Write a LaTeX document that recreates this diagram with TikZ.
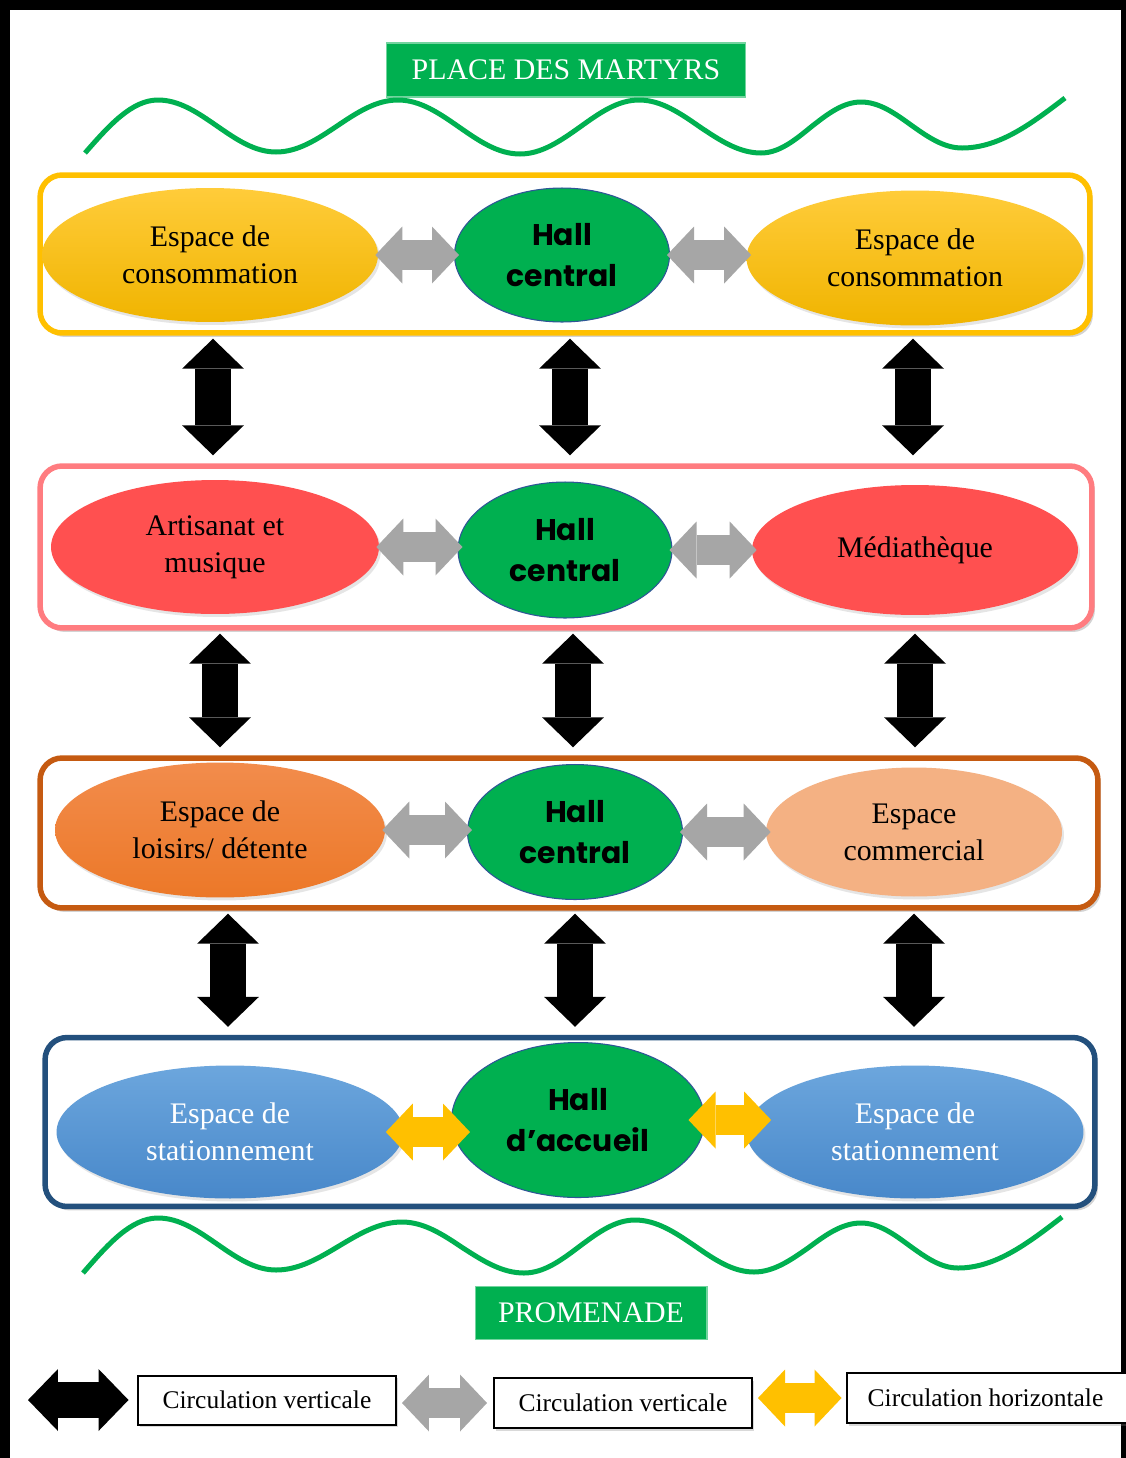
\documentclass[tikz,border=0pt]{standalone}
\usepackage{fontspec}
\setmainfont{Liberation Serif}
\newfontfamily\hallfont{Poppins}
\definecolor{vert}{RGB}{0,176,80}
\definecolor{jaune}{RGB}{255,192,0}
\definecolor{jauneclair}{RGB}{255,204,58}
\definecolor{jaunefonce}{RGB}{240,180,0}
\definecolor{rose}{RGB}{255,124,128}
\definecolor{rouge}{RGB}{255,80,80}
\definecolor{brique}{RGB}{197,90,17}
\definecolor{orangeclair}{RGB}{242,140,76}
\definecolor{orangevif}{RGB}{236,120,40}
\definecolor{peche}{RGB}{244,177,131}
\definecolor{marine}{RGB}{35,80,125}
\definecolor{bleuclair}{RGB}{108,166,221}
\definecolor{bleufonce}{RGB}{72,136,202}
\definecolor{contour}{RGB}{47,85,151}
\definecolor{gris}{RGB}{166,166,166}
\usetikzlibrary{arrows.meta, shapes.geometric, shadows, calc}

\begin{document}
\begin{tikzpicture}[x=0.02cm, y=-0.02cm,
        zone/.style={draw, rounded corners=0.44cm, line width=0.11cm, fill=white, inner sep=0pt,
            drop shadow={opacity=0.35, shadow xshift=0.06cm, shadow yshift=-0.08cm}},
        room/.style={ellipse, inner sep=0pt, align=center, font=\fontsize{17}{21}\selectfont,
            drop shadow={opacity=0.2, shadow xshift=0.04cm, shadow yshift=-0.06cm}},
        hall/.style={ellipse, fill=vert, draw=contour, line width=0.6pt, inner sep=0pt, align=center,
            font=\hallfont\bfseries\fontsize{17}{23}\selectfont},
        tag/.style={fill=vert, draw=vert!55!white, line width=0.6pt, text=white, inner sep=0pt,
            font=\fontsize{17}{20}\selectfont},
        legbox/.style={draw=black, line width=0.04cm, fill=white, inner sep=0pt,
            font=\fontsize{14.5}{17}\selectfont,
            drop shadow={opacity=0.3, shadow xshift=0.04cm, shadow yshift=-0.05cm}},
        varr/.style={draw=black, line width=0.72cm,
            {Triangle[length=0.6cm, width=1.24cm, line width=0pt]}-{Triangle[length=0.6cm, width=1.24cm, line width=0pt]},
            shorten <=0.06cm, shorten >=0.16cm},
        garr/.style={draw=gris, line width=0.6cm,
            {Triangle[length=0.54cm, width=1.14cm, line width=0pt]}-{Triangle[length=0.54cm, width=1.14cm, line width=0pt]},
            shorten <=-0.06cm, shorten >=-0.1cm},
        yarr/.style={garr, draw=jaune},
        wave/.style={draw=vert, line width=0.1cm}
    ]
    \useasboundingbox (0,0) rectangle (1126,1458);
    % cadre
    \draw[line width=0.2cm] (5,1470) -- (5,5) -- (1126,5) -- (1126,1470);

    % Place des Martyrs
    \node[tag, minimum width=7.18cm, minimum height=1.08cm] (place) at (566,70) {PLACE DES MARTYRS};
    \draw[wave] (85,153) sin (158,100) cos (217,126) sin (276,152) cos (337,126) sin (398,100)
        cos (459,127) sin (520,154) cos (580,127) sin (639,100) cos (700,127) sin (761,153)
        cos (811,127) sin (861,102) cos (911,125) sin (962,148) cos (1065,98);

    % Rangée 1 : consommation
    \node[zone, draw=jaune, minimum width=21cm, minimum height=3.16cm] (r1) at (565,254) {};
    \node[room, top color=jauneclair, bottom color=jaunefonce, minimum width=6.72cm, minimum height=2.68cm] (a1) at (210,255) {Espace de\\consommation};
    \node[hall, minimum width=4.3cm, minimum height=2.68cm] (h1) at (562,255) {Hall\\central};
    \node[room, top color=jauneclair, bottom color=jaunefonce, minimum width=6.74cm, minimum height=2.7cm] (b1) at (915,258) {Espace de\\consommation};
    \draw[garr] (a1.east) -- (a1.east -| h1.west);
    \draw[garr] (h1.east) -- (h1.east -| b1.west);

    % Rangée 2 : artisanat / médiathèque
    \node[zone, draw=rose, minimum width=21.04cm, minimum height=3.24cm] (r2) at (566,547) {};
    \node[room, fill=rouge, minimum width=6.56cm, minimum height=2.68cm] (a2) at (215,547) {Artisanat et\\musique};
    \node[hall, minimum width=4.28cm, minimum height=2.72cm] (h2) at (565,550) {Hall\\central};
    \node[room, fill=rouge, minimum width=6.52cm, minimum height=2.6cm] (b2) at (915,550) {Médiathèque};
    \draw[garr] (a2.east) -- (a2.east -| h2.west);
    \draw[garr] (h2.east) -- (h2.east -| b2.west);

    % Rangée 3 : loisirs / commerce
    \node[zone, draw=brique, minimum width=21.16cm, minimum height=3cm] (r3) at (569,833) {};
    \node[room, top color=orangeclair, bottom color=orangevif, minimum width=6.6cm, minimum height=2.7cm] (a3) at (220,830) {Espace de\\loisirs/ détente};
    \node[hall, minimum width=4.3cm, minimum height=2.7cm] (h3) at (575,832) {Hall\\central};
    \node[room, fill=peche, minimum width=5.92cm, minimum height=2.58cm] (b3) at (914,832) {Espace\\commercial};
    \draw[garr] (a3.east) -- (a3.east -| h3.west);
    \draw[garr] (h3.east) -- (h3.east -| b3.west);

    % Rangée 4 : stationnement
    \node[zone, draw=marine, minimum width=21cm, minimum height=3.38cm] (r4) at (570,1122) {};
    \node[room, top color=bleuclair, bottom color=bleufonce, text=white, minimum width=6.94cm, minimum height=2.66cm] (a4) at (230,1132) {Espace de\\stationnement};
    \node[hall, minimum width=5.06cm, minimum height=3.1cm] (h4) at (578,1120) {Hall\\d’accueil};
    \node[room, top color=bleuclair, bottom color=bleufonce, text=white, minimum width=6.74cm, minimum height=2.66cm] (b4) at (915,1132) {Espace de\\stationnement};
    \draw[yarr, shorten <=-0.36cm, shorten >=-0.38cm] (a4.east) -- (a4.east -| h4.west);
    \draw[yarr, shorten <=-0.33cm, shorten >=-0.5cm] (h4.east) -- (h4.east -| b4.west);

    % circulations verticales
    \draw[varr] ($(r1.south -| a1)+(3,0)$) -- ($(r2.north -| a1)+(3,0)$);
    \draw[varr] ($(r1.south -| h1)+(8,0)$) -- ($(r2.north -| h1)+(8,0)$);
    \draw[varr] ($(r1.south -| b1)+(-2,0)$) -- ($(r2.north -| b1)+(-2,0)$);
    \draw[varr] ($(r2.south -| a2)+(5,0)$) -- ($(r3.north -| a2)+(5,0)$);
    \draw[varr] ($(r2.south -| h2)+(8,0)$) -- ($(r3.north -| h2)+(8,0)$);
    \draw[varr] (r2.south -| b2) -- (r3.north -| b2);
    \draw[varr] ($(r3.south -| a3)+(8,0)$) -- ($(r4.north -| a3)+(8,0)$);
    \draw[varr] (r3.south -| h3) -- (r4.north -| h3);
    \draw[varr] (r3.south -| b3) -- (r4.north -| b3);

    % Promenade
    \draw[wave] (83,1273) sin (158,1218) cos (217,1244) sin (276,1270) cos (339,1246) sin (402,1222)
        cos (463,1248) sin (524,1273) cos (580,1246) sin (635,1220) cos (695,1246) sin (754,1272)
        cos (808,1248) sin (861,1223) cos (910,1246) sin (958,1268) cos (1062,1217);
    \node[tag, minimum width=4.64cm, minimum height=1.06cm] (prom) at (591,1313) {PROMENADE};

    % légende
    \node[legbox, minimum width=5.18cm, minimum height=0.98cm] (lg1) at (267,1400) {Circulation verticale};
    \node[legbox, minimum width=5.16cm, minimum height=1cm] (lg2) at (623,1403) {Circulation verticale};
    \node[legbox, minimum width=5.66cm, minimum height=1cm] (lg3) at (988,1398) {\hspace*{-0.1cm}Circulation horizontale};
    \coordinate (k1) at (28,1400);
    \coordinate (k2) at (402,1403);
    \coordinate (k3) at (758,1398);
    \draw[varr, shorten <=0pt, shorten >=0.16cm] (k1) -- (lg1);
    \draw[garr, shorten <=0pt, shorten >=0.12cm] (k2) -- (lg2);
    \draw[yarr, shorten <=0pt, shorten >=0.08cm] (k3) -- (lg3);
\end{tikzpicture}
\end{document}
